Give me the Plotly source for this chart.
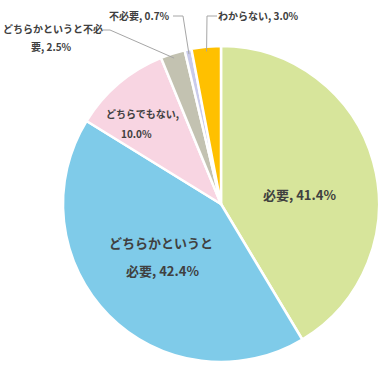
import math
import plotly.graph_objects as go

labels = ["必要", "どちらかというと必要", "どちらでもない", "どちらかというと不必要", "不必要", "わからない"]
values = [41.4, 42.4, 10.0, 2.5, 0.7, 3.0]
colors = ["#D7E59B", "#7FCBE9", "#F8D5E2", "#C3C2B1", "#C9CBEB", "#FFC000"]

W, H = 385, 370
CX, CY, R = 221, 204, 158

def px(x):
    return x / W

def py(y):
    return 1 - y / H

fig = go.Figure(go.Pie(
    labels=labels, values=values, sort=False, direction="clockwise", rotation=0,
    marker=dict(colors=colors, line=dict(color="white", width=2.5)),
    textinfo="none", hoverinfo="label+percent", showlegend=False,
    domain=dict(x=[px(CX - R), px(CX + R)], y=[py(CY + R), py(CY - R)]),
))

font = dict(family="Noto Sans CJK JP", color="#404040")
# (text, x, y, size)
texts = [
    ("<b>必要, 41.4%</b>", 299, 194, 13),
    ("<b>どちらかというと</b>", 161, 243, 13),
    ("<b>必要, 42.4%</b>", 162, 270, 13),
    ("<b>どちらでもない,</b>", 142, 113, 10),
    ("<b>10.0%</b>", 136, 133, 10),
    ("<b>不必要, 0.7%</b>", 139, 15, 10),
    ("<b>わからない, 3.0%</b>", 258, 15, 10),
    ("<b>どちらかというと不必</b>", 53, 29, 10),
    ("<b>要, 2.5%</b>", 52, 46, 10),
]
annotations = []
for t, x, y, s in texts:
    annotations.append(dict(text=t, x=px(x), y=py(y), xref="paper", yref="paper",
                            showarrow=False, font=dict(size=s, **font),
                            xanchor="center", yanchor="middle"))

# leader lines: label end -> elbow -> slice edge (computed from data)
total = sum(values)
def edge_point(idx, rfac=1.0):
    start = sum(values[:idx])
    mid = (start + values[idx] / 2) / total * 2 * math.pi
    return CX + R * rfac * math.sin(mid), CY - R * rfac * math.cos(mid)

leaders = [
    (3, [(103, 30), (110, 30)]),
    (4, [(173, 16), (183, 16)]),
    (5, [(217, 16), (207, 16)]),
]
shapes = []
for idx, pts in leaders:
    ex, ey = edge_point(idx, 0.97)
    allpts = pts + [(ex, ey)]
    path = "M " + " L ".join(f"{px(a)},{py(b)}" for a, b in allpts)
    shapes.append(dict(type="path", path=path, xref="paper", yref="paper",
                       line=dict(color="#A6A6A6", width=1)))

fig.update_layout(width=W, height=H, margin=dict(l=0, r=0, t=0, b=0),
                  paper_bgcolor="white", plot_bgcolor="white",
                  annotations=annotations, shapes=shapes)
fig.write_html("out.html", config=dict(displayModeBar=False),
               post_script="document.body.style.margin='0';document.body.style.overflow='hidden';")
